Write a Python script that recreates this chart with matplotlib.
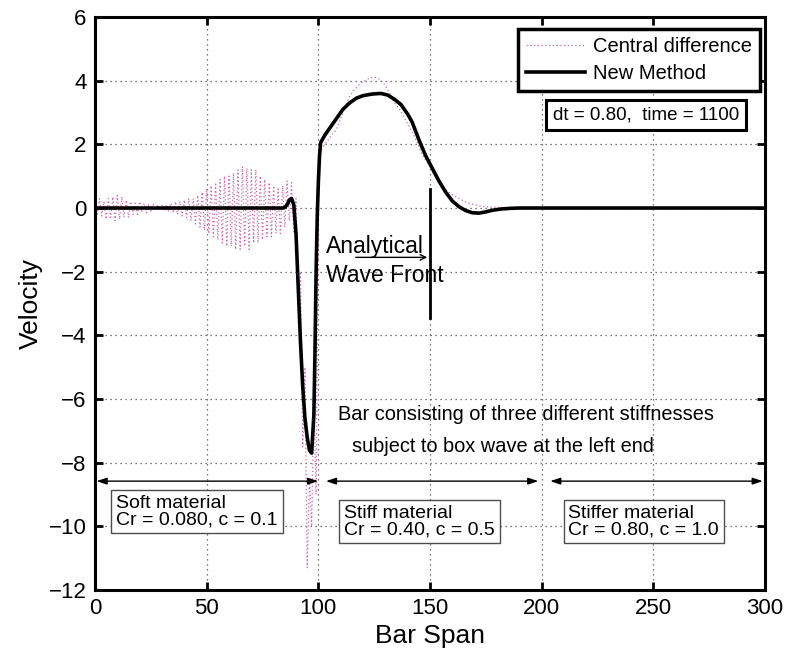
import numpy as np
import matplotlib
matplotlib.use('Agg')
import matplotlib.pyplot as plt

plt.rcParams['font.family'] = ['Liberation Sans', 'DejaVu Sans']

# 中心差分（节点值，读图估计）
x_cd = list(range(0, 102)) + [102, 104, 106, 108, 110, 112, 114, 116, 118, 120, 122, 124, 126, 128,
                              130, 132, 134, 136, 138, 140, 142, 144, 146, 148, 150, 152, 154, 156,
                              158, 160, 162, 164, 166, 168, 170, 172, 175, 180, 185, 300]
v_cd = [0.15, -0.2, 0.3, -0.25, 0.2, -0.35, 0.3, -0.3, 0.35, -0.4,
        0.4, -0.35, 0.35, -0.3, 0.25, -0.3, 0.2, -0.2, 0.15, -0.2,
        0.2, -0.1, 0.15, -0.15, 0.1, -0.1, 0.12, -0.08, 0.1, -0.05,
        0.08, -0.1, 0.1, -0.12, 0.15, -0.15, 0.2, -0.2, 0.2, -0.25,
        0.25, -0.3, 0.3, -0.4, 0.3, -0.5, 0.4, -0.6, 0.5, -0.7,
        0.6, -0.8, 0.7, -0.9, 0.8, -1.0, 0.9, -1.1, 1.0, -1.2,
        1.0, -1.2, 1.1, -1.3, 1.2, -1.3, 1.3, -1.2, 1.25, -1.3,
        1.2, -1.1, 1.2, -1.1, 1.0, -1.0, 0.9, -0.9, 0.8, -0.9,
        0.7, -0.8, 0.6, -0.8, 0.7, -0.6, 0.85, -0.4, 0.8, -0.8,
        0.3, -3.0, -2.0, -7.5, -5.0, -11.3, -8.5, -10.0, -6.0, -9.0,
        0.3, 1.8,
        1.9, 2.1, 2.3, 2.45, 2.8, 3.2, 3.5, 3.7, 3.85, 3.97, 4.05, 4.1, 4.1, 4.02,
        3.85, 3.6, 3.3, 3.15, 2.9, 2.65, 2.4, 2.1, 1.75, 1.5, 1.3, 1.02, 0.82, 0.65,
        0.52, 0.42, 0.34, 0.26, 0.19, 0.14, 0.1, 0.07, 0.04, 0.02, 0.0, 0.0]

# 新方法
x_new = [0, 84, 85, 86, 87, 88, 89, 90, 91, 92, 93, 94, 95, 96, 97, 98, 98.5, 99, 99.5, 100, 100.5, 101,
         103, 105, 108, 111, 114, 117, 120, 124, 128, 131, 134, 137, 140, 142, 145, 148, 151, 154,
         157, 160, 163, 166, 169, 172, 175, 178, 182, 186, 190, 300]
v_new = [0, 0, 0.02, 0.1, 0.25, 0.3, 0.1, -0.8, -2.5, -4.2, -5.6, -6.6, -7.2, -7.6, -7.7, -6.5, -4.5,
         -2.0, -0.3, 0.8, 1.6, 2.05,
         2.3, 2.5, 2.8, 3.1, 3.3, 3.45, 3.53, 3.58, 3.6, 3.55, 3.42, 3.25, 2.95, 2.7, 2.15, 1.65,
         1.25, 0.85, 0.5, 0.22, 0.04, -0.08, -0.15, -0.16, -0.12, -0.07, -0.03, -0.01, 0, 0]

pink = '#cc6aaa'
fig = plt.figure(figsize=(7.89, 6.5), dpi=100)
ax = fig.add_axes([0.1204, 0.0923, 0.8492, 0.8815])

ax.plot(x_cd, v_cd, color=pink, lw=0.9, ls=(0, (1, 2)), label='Central difference')
ax.plot(x_new, v_new, color='k', lw=2.6, label='New Method')

ax.set_xlim(0, 300)
ax.set_ylim(-12, 6)
ax.set_xticks(np.arange(0, 301, 50))
ax.set_yticks(np.arange(-12, 7, 2))
ax.set_yticklabels(['\u221212', '\u221210', '\u22128', '\u22126', '\u22124', '\u22122', '0', '2', '4', '6'])
ax.tick_params(direction='in', length=6, width=2, labelsize=16, top=True, right=True, pad=6)
for s in ax.spines.values():
    s.set_linewidth(2.2)
ax.grid(True, color='0.3', ls=(0, (1, 3)), lw=0.9)
ax.set_axisbelow(True)
ax.set_xlabel('Bar Span', fontsize=19, labelpad=3)
ax.set_ylabel('Velocity', fontsize=19, labelpad=4)

leg = ax.legend(loc='upper right', bbox_to_anchor=(0.9925, 0.979), borderaxespad=0,
                fontsize=14.5, fancybox=False, framealpha=1, handlelength=2.9,
                borderpad=0.4, labelspacing=0.4, handletextpad=0.4)
leg.get_frame().set_edgecolor('k')
leg.get_frame().set_linewidth(2.5)

ax.text(205, 2.92, 'dt = 0.80,  time = 1100', fontsize=13.5, va='center', ha='left',
        bbox=dict(boxstyle='square,pad=0.35', fc='w', ec='k', lw=2.2))

# 解析波前
ax.plot([150, 150], [0.6, -3.45], color='k', lw=2)
ax.annotate('', xy=(150, -1.55), xytext=(115.5, -1.55),
            arrowprops=dict(arrowstyle='->', color='k', lw=1))
ax.text(103.5, -1.42, 'Analytical', fontsize=16.5, va='baseline', ha='left')
ax.text(103.5, -2.32, 'Wave Front', fontsize=16.5, va='baseline', ha='left')

ax.text(109, -6.5, 'Bar consisting of three different stiffnesses', fontsize=14.4, va='center')
ax.text(115, -7.5, 'subject to box wave at the left end', fontsize=14.4, va='center')

# 三段材料
y_arr = -8.58
for a, b in [(0.7, 99.9), (103.4, 198.5), (203.8, 299)]:
    ax.annotate('', xy=(b, y_arr), xytext=(a, y_arr),
                arrowprops=dict(arrowstyle='<|-|>,head_length=0.6,head_width=0.2',
                                color='k', lw=1, shrinkA=0, shrinkB=0))

box = dict(boxstyle='square,pad=0.25', fc='w', ec='0.3', lw=1)
ax.text(9.5, -9.54, 'Soft material\nCr = 0.080, c = 0.1', fontsize=14, va='center',
        linespacing=0.95, bbox=box)
ax.text(111.5, -9.85, 'Stiff material\nCr = 0.40, c = 0.5', fontsize=14, va='center',
        linespacing=0.95, bbox=box)
ax.text(212, -9.85, 'Stiffer material\nCr = 0.80, c = 1.0', fontsize=14, va='center',
        linespacing=0.95, bbox=box)

plt.savefig('out.png', dpi=100)
